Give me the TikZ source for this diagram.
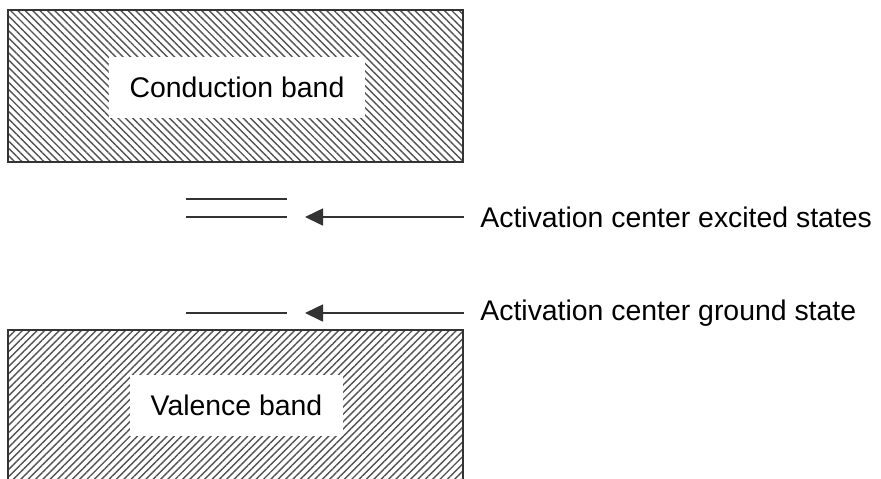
\documentclass[tikz,border=0pt]{standalone}
\usepackage{fontspec}
\setmainfont{Liberation Sans}
\usetikzlibrary{arrows.meta, patterns.meta, positioning}
\definecolor{ink}{gray}{0.2}

\begin{document}
\begin{tikzpicture}[x=0.5pt,y=-0.5pt,>={Triangle[length=9pt,width=8.5pt]},
    font=\fontsize{14.2pt}{17pt}\selectfont,
    band/.style={draw=ink,line width=0.8pt},
    cbhatch/.style={pattern={Lines[angle=-45,distance=2.6pt,line width=0.7pt]},pattern color=ink!85},
    vbhatch/.style={pattern={Lines[angle=45,distance=2.6pt,line width=0.7pt]},pattern color=ink!85},
    bandlabel/.style={fill=white,inner xsep=10.5pt,minimum height=30.5pt},
    level/.style={draw=ink,line width=0.8pt},
    pointer/.style={draw=ink,line width=0.8pt},
    statelabel/.style={anchor=west,inner xsep=8pt}]
    \clip (0,0) rectangle (881,478);
    % bands
    \path[band,cbhatch] (8,10) rectangle (463,162);
    \path[band,vbhatch] (8,330) rectangle (463,495);
    \node[bandlabel] (cb) at (237,87.5) {Conduction band};
    \node[bandlabel] (vb) at (236.5,405.5) {Valence band};
    % activation center levels
    \coordinate (e1l) at (186,199); \coordinate (e1r) at (287,199);
    \coordinate (e2l) at (186,217); \coordinate (e2r) at (287,217);
    \coordinate (g0l) at (186,313); \coordinate (g0r) at (287,313);
    \path[level] (e1l) -- (e1r) (e2l) -- (e2r) (g0l) -- (g0r);
    \node[statelabel] (ex) at (464,217) {Activation center excited states};
    \node[statelabel] (gs) at (464,313) {Activation center ground state};
    \coordinate (etip) at (305,217);
    \coordinate (gtip) at (305,313);
    \path[->]
      (ex.west) edge[pointer] (etip)
      (gs.west) edge[pointer] (gtip);
\end{tikzpicture}
\end{document}
